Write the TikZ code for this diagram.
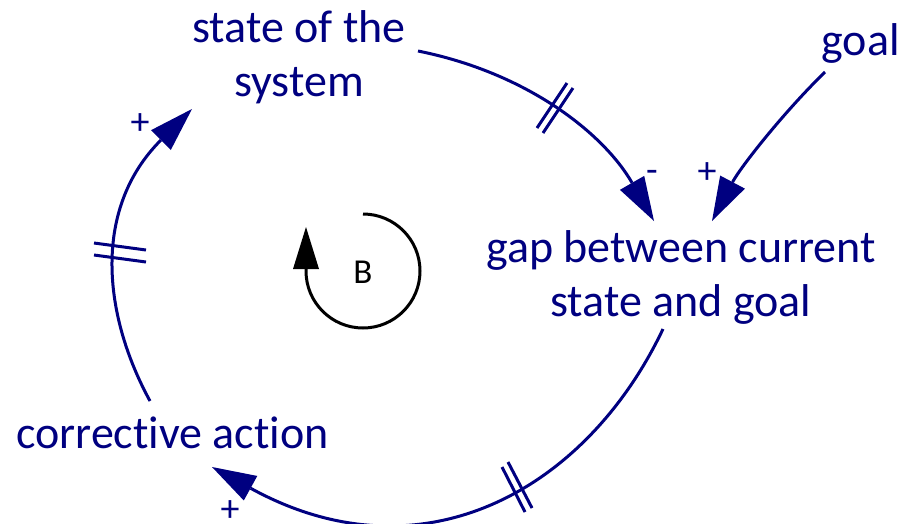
\documentclass[tikz,border=0pt]{standalone}
\usepackage{fontspec}
\setmainfont{Carlito}[Ligatures={NoCommon}]
\usetikzlibrary{arrows.meta}
\definecolor{navy}{RGB}{0,0,128}
\begin{document}
\begin{tikzpicture}[x=1pt,y=1pt,
  lbl/.style={text=navy, font=\fontsize{46}{54}\selectfont, align=center, inner sep=0pt},
  sgn/.style={text=navy, font=\fontsize{38}{40}\selectfont, inner sep=0pt, anchor=base},
  link/.style={draw=navy, line width=3pt, -{Triangle[length=44pt,width=28pt,line width=0pt]}},
  hashmark/.style={draw=navy, line width=3pt},
  loopmark/.style={draw=black, line width=3pt, -{Triangle[length=42pt,width=26pt,line width=0pt]}}]
\useasboundingbox (0,0) rectangle (919,-523);
% texts
\node[lbl] (state) at (299,-57.5) {state of the\\system};
\node[lbl] (gap) at (681,-277.5) {gap between current\\state and goal};
\node[lbl, anchor=base] (action) at (172.5,-448) {corrective action};
\node[lbl, anchor=base] (goal) at (860.5,-55) {goal};
\node[text=black, font=\fontsize{35}{38}\selectfont, inner sep=0pt] (B) at (363,-272) {B};
% signs
\node[sgn] (s1) at (652,-182) {-};
\node[sgn] (s2) at (707,-183) {+};
\node[sgn] (s3) at (140,-134) {+};
\node[sgn] (s4) at (230,-521) {+};
% connector end points
\coordinate (a1) at (418,-51);
\coordinate (t1) at (654,-221);
\coordinate (a2) at (825,-72);
\coordinate (t2) at (712,-221);
\coordinate (a3) at (663,-329);
\coordinate (t3) at (212,-467);
\coordinate (a4) at (150,-401);
\coordinate (t4) at (192,-109);
% connectors
\draw[link] (a1) .. controls (528,-73) and (604,-134) .. (t1);
\draw[link] (a2) .. controls (782,-114) and (740,-168) .. (t2);
\draw[link] (a3) .. controls (586,-491) and (421,-582) .. (t3);
\draw[link] (a4) .. controls (102,-313) and (93,-208) .. (t4);
% delay marks
\draw[hashmark] (567,-83) -- (537,-128);
\draw[hashmark] (573,-88) -- (543,-133);
\draw[hashmark] (94,-243) -- (146,-250);
\draw[hashmark] (94,-255) -- (146,-262);
\draw[hashmark] (502,-467) -- (525,-512);
\draw[hashmark] (508,-462) -- (532,-508);
% loop symbol
\draw[loopmark] (363,-214) arc[start angle=90, end angle=-180, radius=57] -- ++(0,44);
\end{tikzpicture}
\end{document}
